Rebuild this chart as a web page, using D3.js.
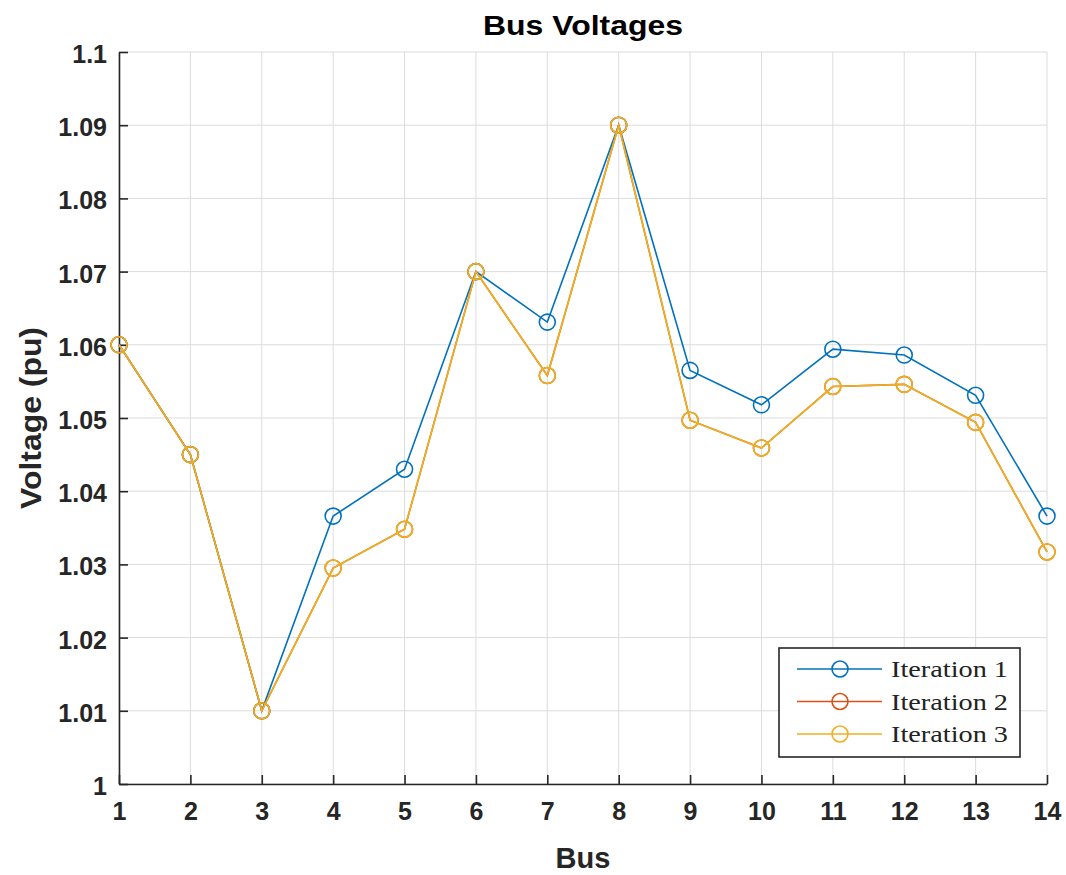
<!DOCTYPE html>
<html>
<head>
<meta charset="utf-8">
<script src="https://cdn.jsdelivr.net/npm/d3@7"></script>
<style>
  html, body { margin: 0; padding: 0; background: #fff; }
  svg { display: block; }
</style>
</head>
<body>
<svg id="chart" width="1066" height="875"></svg>
<script>
// Bus numbers and per-unit voltages for each load-flow iteration
const buses = [1, 2, 3, 4, 5, 6, 7, 8, 9, 10, 11, 12, 13, 14];
const iteration1 = [1.060, 1.045, 1.010, 1.0366, 1.0430, 1.070, 1.0631, 1.090, 1.0565, 1.0518, 1.0594, 1.0586, 1.0531, 1.0366];
const iteration2 = [1.060, 1.045, 1.010, 1.0295, 1.0348, 1.070, 1.0558, 1.090, 1.0497, 1.0459, 1.0543, 1.0546, 1.0494, 1.0317];
const iteration3 = [1.060, 1.045, 1.010, 1.0295, 1.0348, 1.070, 1.0558, 1.090, 1.0497, 1.0459, 1.0543, 1.0546, 1.0494, 1.0317];
const seriesNames = ["Iteration 1", "Iteration 2", "Iteration 3"];
const seriesColors = ["#0072BD", "#D95319", "#EDB120"];
const yTicks = [1, 1.01, 1.02, 1.03, 1.04, 1.05, 1.06, 1.07, 1.08, 1.09, 1.1];

const series = [iteration1, iteration2, iteration3].map((vals, i) => ({
  name: seriesNames[i],
  color: seriesColors[i],
  points: buses.map((b, j) => ({ bus: b, v: vals[j] }))
}));

const svg = d3.select("#chart");
const plotLeft = 119, plotRight = 1047, plotTop = 52, plotBottom = 784;

const x = d3.scaleLinear().domain([1, 14]).range([plotLeft, plotRight]);
const y = d3.scaleLinear().domain([1, 1.1]).range([plotBottom, plotTop]);

const axisColor = "#262626";
const sansFont = "Liberation Sans, Arial, Helvetica, sans-serif";

// grid
const grid = svg.append("g");
grid.selectAll("line.gx").data(buses).join("line")
  .attr("x1", d => x(d)).attr("x2", d => x(d))
  .attr("y1", plotTop).attr("y2", plotBottom)
  .attr("stroke", "#dcdcdc").attr("stroke-width", 1);
grid.selectAll("line.gy").data(yTicks).join("line")
  .attr("x1", plotLeft).attr("x2", plotRight)
  .attr("y1", d => y(d)).attr("y2", d => y(d))
  .attr("stroke", "#dcdcdc").attr("stroke-width", 1);

// axes (ticks pointing inward)
const xAxis = d3.axisBottom(x).tickValues(buses).tickFormat(d3.format("d"))
  .tickSizeInner(-9).tickSizeOuter(0).tickPadding(18);
const gx = svg.append("g").attr("transform", `translate(0,${plotBottom})`).call(xAxis);
const yAxis = d3.axisLeft(y).tickValues(yTicks).tickFormat(d => String(+d.toFixed(2)))
  .tickSizeInner(-9).tickSizeOuter(0).tickPadding(12);
const gy = svg.append("g").attr("transform", `translate(${plotLeft},0)`).call(yAxis);

[gx, gy].forEach(g => {
  g.select(".domain").attr("stroke", axisColor).attr("stroke-width", 1.6);
  g.selectAll(".tick line").attr("stroke", axisColor).attr("stroke-width", 1.6);
  g.selectAll(".tick text")
    .attr("fill", axisColor)
    .attr("font-family", sansFont)
    .attr("font-weight", "bold")
    .attr("font-size", "25px");
});
gy.selectAll(".tick text").attr("dy", "0.42em");

// lines and markers
const line = d3.line().x(d => x(d.bus)).y(d => y(d.v));
const plot = svg.append("g");
series.forEach(s => {
  plot.append("path")
    .datum(s.points)
    .attr("d", line)
    .attr("fill", "none")
    .attr("stroke", s.color)
    .attr("stroke-width", 1.6);
  plot.selectAll(null).data(s.points).join("circle")
    .attr("cx", d => x(d.bus)).attr("cy", d => y(d.v))
    .attr("r", 8)
    .attr("fill", "none")
    .attr("stroke", s.color)
    .attr("stroke-width", 1.6);
});

// title and axis labels
svg.append("text")
  .attr("x", (plotLeft + plotRight) / 2).attr("y", 35)
  .attr("text-anchor", "middle")
  .attr("font-family", sansFont).attr("font-weight", "bold")
  .attr("font-size", "28px").attr("fill", "#000")
  .attr("textLength", 200).attr("lengthAdjust", "spacingAndGlyphs")
  .text("Bus Voltages");
svg.append("text")
  .attr("x", (plotLeft + plotRight) / 2).attr("y", 868)
  .attr("text-anchor", "middle")
  .attr("font-family", sansFont).attr("font-weight", "bold")
  .attr("font-size", "29px").attr("fill", axisColor)
  .text("Bus");
svg.append("text")
  .attr("transform", `translate(41,${(plotTop + plotBottom) / 2}) rotate(-90)`)
  .attr("text-anchor", "middle")
  .attr("font-family", sansFont).attr("font-weight", "bold")
  .attr("font-size", "29px").attr("fill", axisColor)
  .attr("textLength", 182).attr("lengthAdjust", "spacingAndGlyphs")
  .text("Voltage (pu)");

// legend
const lg = svg.append("g").attr("transform", "translate(779,648)");
lg.append("rect").attr("width", 241).attr("height", 109)
  .attr("fill", "#fff").attr("stroke", "#262626").attr("stroke-width", 1.6);
series.forEach((s, i) => {
  const cy = 21 + i * 32.5;
  lg.append("line").attr("x1", 18).attr("x2", 103).attr("y1", cy).attr("y2", cy)
    .attr("stroke", s.color).attr("stroke-width", 1.6);
  lg.append("circle").attr("cx", 61).attr("cy", cy).attr("r", 8)
    .attr("fill", "none").attr("stroke", s.color).attr("stroke-width", 1.6);
  lg.append("text").attr("x", 112).attr("y", cy + 8)
    .attr("font-family", "Liberation Serif, DejaVu Serif, serif")
    .attr("font-size", "23px").attr("fill", "#222")
    .attr("textLength", 117).attr("lengthAdjust", "spacingAndGlyphs")
    .text(s.name);
});
</script>
</body>
</html>
